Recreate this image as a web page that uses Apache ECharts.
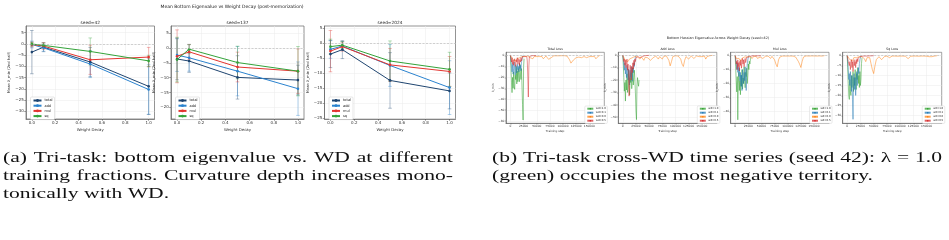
<!DOCTYPE html>
<html><head><meta charset="utf-8">
<script src="https://cdn.jsdelivr.net/npm/echarts@6/dist/echarts.min.js"></script>
<style>html,body{margin:0;padding:0;background:#fff}#c{width:949px;height:240px}</style>
</head><body><div id="c"></div>
<script>
// ---- data: (a) mean bottom eigenvalue vs weight decay ----
var wdX = [0, 0.1, 0.5, 1.0];
var taskNames = ['total', 'add', 'mul', 'sq'];
var seedTitles = ['seed=42', 'seed=137', 'seed=2024'];

var s42Mean = [[-3.7, -1.5, -8.1, -18.9], [-0.3, -1.8, -9.0, -20.3], [-0.3, -1.0, -7.1, -5.9], [-0.1, -0.7, -3.4, -7.6]];
var s42Err  = [[9.6, 2.0, 6.5, 12.5], [1.5, 1.5, 6.0, 11.0], [1.0, 1.5, 6.5, 4.3], [0.8, 1.0, 6.0, 2.5]];
var s137Mean = [[-3.7, -4.4, -9.9, -10.8], [-2.4, -3.3, -7.8, -13.7], [-2.8, -1.3, -6.4, -7.8], [-3.9, -0.4, -4.9, -7.8]];
var s137Err  = [[7.0, 3.8, 7.3, 5.0], [5.5, 4.5, 8.3, 9.0], [8.9, 2.5, 5.0, 7.5], [7.5, 1.5, 5.5, 8.3]];
var s2024Mean = [[-3.6, -2.1, -12.4, -15.9], [-2.0, -0.9, -7.4, -14.8], [-2.6, -1.1, -7.2, -9.4], [-1.1, -0.6, -5.9, -8.7]];
var s2024Err  = [[4.5, 3.0, 9.3, 6.0], [3.0, 1.5, 7.0, 9.0], [6.9, 1.5, 5.5, 5.0], [2.5, 1.2, 6.7, 5.7]];

var wdTicks = [0, 0.2, 0.4, 0.6, 0.8, 1.0];
var yTicks42 = [5, 0, -5, -10, -15, -20, -25, -30];
var yTicks137 = [5, 0, -5, -10, -15, -20];
var yTicks2024 = [5, 0, -5, -10, -15, -20, -25];

// ---- data: (b) bottom hessian eigenvalue time series, seed 42 ----
var lossTitles = ['Total Loss', 'Add Loss', 'Mul Loss', 'Sq Loss'];
var wdNames = ['wd=1.0', 'wd=0.1', 'wd=0.0', 'wd=0.5'];

var steps1k = [0,1000,2000,3000,4000,5000,6000,7000,8000,9000,10000,11000,12000,13000,14000,15000,16000,17000,18000,19000,20000,
  21000,22000,23000,24000,25000,26000,27000,28000,29000,30000,31000,32000,33000,34000,35000,36000,37000,38000,39000,40000,
  41000,42000,43000,44000,45000,46000,47000,48000,49000,50000];
var steps2500 = [0,2500,5000,7500,10000,12500,15000,17500,20000,22500,25000,27500,30000,32500,35000,37500,40000,42500,45000,47500,
  50000,52500,55000,57500,60000,62500,65000,67500,70000,72500,75000,77500,80000,82500,85000,87500,90000,92500,95000,97500,
  100000,102500,105000,107500,110000,112500,115000,117500,120000,122500,125000,127500,130000,132500,135000,137500,140000,
  142500,145000,147500,150000,152500,155000,157500,160000,162500,165000,167500,170000];

// Total Loss
var totGreen = [0, -12, -25, -34, -20, -30, -15, -28, -31, -18, -22, -10, -26, -14, -24, -12, -20, -24, -8, -18, -22, -12, -30, -45, -59, -10, -3];
var totBlue = [0, -5, -10, -15, -8, -17, -12, -6, -14, -18, -9, -12, -16, -8, -13, -10, -15, -7, -12, -9, -14, -6, -3, -1, 0];
var totOrange = [0,-2,-4,-3,-5,-3,-4,-2,-3,-1, -2,-1,-1,-0.5,-1,-2,-1,-3,-1,-0.5, -1,-2,-1,-2.5,-1,-3,-1.5,-0.5,-2,-3.5,
  -4,-2,-0.5,-0.3,-0.2,-0.3,-0.2,-0.3,-0.2,-0.2, -0.3,-0.2,-0.3,-0.5,-2,-4,-7,-6,-4,-3, -2,-3,-1.5,-1,-2,-3,-1,-0.5,-2,-3,
  -1,-0.5,-1,-2,-1,-3,-1.5,-0.5,0];
var totRed = [0, -3, -6, -2, -8, -4, -9, -5, -3, -7, -10, -4, -6, -2, -8, -5, -3, -9, -4, -6, -2, -5, -3, -1, -2, -1, -0.5, -1, -0.5, -0.3,
  -0.5, -1, -5, -20, -38, -10, -1, -0.5, -0.3, -0.2, -0.3, -0.2, -0.1, -0.2, -0.1, -0.1, -0.2, -0.1, -0.1, -0.1, 0];
// Add Loss
var addGreen = [0, -8, -18, -29, -22, -37, -20, -28, -15, -30, -24, -12, -26, -32, -18, -22, -14, -27, -20, -10, -24, -18, -12, -20, -30, -45, -52, -25, -18, -22, -25, -20];
var addBlue = [0, -3, -8, -12, -6, -15, -10, -18, -8, -14, -20, -11, -16, -24, -12, -18, -9, -15, -21, -10, -14, -6, -9, -4, -1, 0];
var addOrange = [0,-2,-4,-3,-5,-3,-4,-2,-3,-1, -2,-1,-0.5,-3,-1,-0.5,-4,-1.5,-0.5,-2, -1,-4,-5,-2,-1,-0.5,-2,-3,-1,-0.5,
  -3,-1,-0.5,-0.3,-1,-4,-8.5,-5,-1,-0.5, -0.3,-1,-0.5,-1,-3,-7,-9,-4,-1,-0.5, -3,-1.5,-0.5,-1,-2.5,-1,-0.5,-2,-1,-0.5,
  -1,-2,-0.5,-3,-1,-0.5,-0.3,-0.2,0];
var addRed = [0, -2, -5, -3, -8, -4, -10, -6, -3, -12, -7, -18, -33, -15, -8, -12, -20, -9, -14, -6, -11, -4, -8, -3, -5, -2, -3, -1, -2, -1,
  -0.5, -1, -0.5, -2, -1, -0.5, -0.3, -1, -0.5, -0.3, -0.2, -0.3, -0.2, -0.1, -0.2, -0.1, -0.1, -0.2, -0.1, -0.1, 0];
// Mul Loss
var mulGreen = [0, -8, -18, -26, -15, -46, -20, -12, -25, -18, -28, -14, -22, -10, -24, -16, -20, -8, -18, -23, -12, -15, -9, -20, -14, -6, -10, -4, -6, -3, -1];
var mulBlue = [0, -3, -6, -10, -5, -12, -8, -15, -9, -18, -12, -22, -14, -25, -10, -16, -20, -12, -18, -8, -14, -25, -11, -6, -3, -1, 0];
var mulOrange = [0,-2,-3,-2,-4,-2,-3,-1,-2,-1, -1.5,-0.5,-1,-2,-0.5,-1,-0.5,-2,-3,-1, -0.5,-2,-1,-0.5,-1,-0.3,-1,-2,-0.5,-1,
  -3,-6,-8,-3,-1,-0.5,-0.3,-0.5,-0.3,-0.2, -0.3,-0.5,-0.3,-0.2,-0.3,-0.5,-1,-2,-4,-6, -8.5,-4,-1,-0.3,-0.2,-0.2,-0.3,-0.2,-0.2,-0.3,
  -0.2,-0.2,-0.3,-0.2,-0.2,-0.2,-0.3,-0.2,0];
var mulRed = [0, -2, -6, -4, -10, -3, -8, -5, -11, -4, -7, -3, -9, -5, -2, -6, -3, -8, -4, -2, -5, -3, -1, -2, -1, -0.5, -1, -0.5, -0.3, -0.5,
  -0.2, -0.3, -0.2, -0.5, -0.2, -0.1, -0.3, -0.2, -0.1, -0.2, -0.1, -0.1, -0.2, -0.1, -0.1, -0.1, -0.2, -0.1, -0.1, -0.1, 0];
// Sq Loss
var sqGreen = [0, -6, -14, -20, -22, -12, -18, -20, -10, -16, -13, -8, -18, -11, -15, -7, -13, -17, -9, -12, -6, -14, -10, -16, -8, -15, -12, -4, -1];
var sqBlue = [0, -3, -7, -12, -9, -15, -8, -13, -18, -10, -22, -32, -14, -9, -17, -11, -20, -13, -8, -15, -10, -6, -9, -4, -2, -1, 0];
var sqOrange = [0,-1,-2,-1.5,-2.5,-1,-2,-1,-1.5,-0.5, -1,-0.5,-0.5,-1.5,-3,-1,-0.5,-1,-4,-7, -9,-5,-2,-1,-0.5,-1,-2,-1,-0.5,-0.3,
  -0.2,-0.5,-1,-0.3,-0.2,-0.3,-0.2,-0.2,-0.3,-0.2, -0.2,-0.3,-0.2,-0.3,-0.3,-1,-1.5,-1,-0.3,-0.2, -0.2,-0.3,-0.2,-0.2,-0.3,-0.2,-0.2,-0.3,-0.2,-0.2,
  -0.3,-0.2,-0.5,-1.5,-0.5,-0.2,-0.2,-0.2,0];
var sqRed = [0, -1, -3, -2, -5, -3, -7, -4, -2, -6, -3, -8, -4, -2, -5, -3, -6, -2, -4, -1.5, -3, -1, -2, -0.5, -1, -0.5, -0.3, -0.5, -0.2, -0.3,
  -0.2, -0.1, -0.2, -0.1, -0.2, -0.1, -0.1, -0.1, -0.2, -0.1, -0.1, -0.1, -0.1, -0.1, -0.1, -0.1, -0.1, -0.1, -0.1, -0.1, 0];

var yTicksTot = [0, -10, -20, -30, -40, -50, -60];
var yTicksAdd = [0, -10, -20, -30, -40, -50];
var yTicksMul = [0, -10, -20, -30, -40];
var yTicksSq = [0, -5, -10, -15, -20, -25, -30];
var stepTicks = [0, 25000, 50000, 75000, 100000, 125000, 150000];

// ---- layout ----
var FONT = 'DejaVu Sans';
var taskColors = ['#1f4570', '#2b83cf', '#e3342f', '#34a33a'];
var wdColors = ['#2ca02c', '#1f77b4', '#ff7f0e', '#d62728'];

var leftPanels = [
  {grid: {left: 26, top: 26, width: 128.5, height: 93}, min: -33.4, max: 7.9, ticks: yTicks42, mean: s42Mean, err: s42Err},
  {grid: {left: 171, top: 26, width: 133, height: 93}, min: -23.9, max: 7.4, ticks: yTicks137, mean: s137Mean, err: s137Err},
  {grid: {left: 324.5, top: 26, width: 131, height: 93}, min: -25.3, max: 5.8, ticks: yTicks2024, mean: s2024Mean, err: s2024Err}
];
var rightPanels = [
  {grid: {left: 506, top: 52.3, width: 98.3, height: 71}, min: -62, max: 2.9, ticks: yTicksTot, lines: [totGreen, totBlue, totOrange, totRed]},
  {grid: {left: 618.3, top: 52.3, width: 98.5, height: 71}, min: -55, max: 2.5, ticks: yTicksAdd, lines: [addGreen, addBlue, addOrange, addRed]},
  {grid: {left: 730.7, top: 52.3, width: 98.3, height: 71}, min: -48.5, max: 2.4, ticks: yTicksMul, lines: [mulGreen, mulBlue, mulOrange, mulRed]},
  {grid: {left: 842.7, top: 52.3, width: 99, height: 71}, min: -34, max: 1.7, ticks: yTicksSq, lines: [sqGreen, sqBlue, sqOrange, sqRed]}
];

function minus(v) { return String(v).replace('-', '\u2212'); }

function errRender(params, api) {
  var x = api.value(0), y = api.value(1), e = api.value(2);
  var a = api.coord([x, y + e]), b = api.coord([x, y - e]);
  var st = {stroke: api.visual('color'), lineWidth: 0.8, opacity: 0.45};
  var cap = 1.8;
  return {type: 'group', children: [
    {type: 'line', shape: {x1: a[0], y1: a[1], x2: b[0], y2: b[1]}, style: st},
    {type: 'line', shape: {x1: a[0] - cap, y1: a[1], x2: a[0] + cap, y2: a[1]}, style: st},
    {type: 'line', shape: {x1: b[0] - cap, y1: b[1], x2: b[0] + cap, y2: b[1]}, style: st}
  ]};
}

var grids = [], xAxes = [], yAxes = [], series = [], titles = [], legends = [];
var zeroLine = {silent: true, symbol: ['none', 'none'], label: {show: false}, animation: false,
  lineStyle: {color: '#b5b5b5', type: [2, 1.5], width: 0.6}, data: [{yAxis: 0}]};
var gridLine = {show: true, lineStyle: {color: '#ebebeb', width: 0.5}};
var boxLine = {show: true, onZero: false, lineStyle: {color: '#666', width: 0.7}};

leftPanels.forEach(function (p, i) {
  grids.push(Object.assign({show: true, borderColor: '#666', borderWidth: 0.7}, p.grid));
  xAxes.push({type: 'value', gridIndex: i, min: -0.05, max: 1.05, axisLine: boxLine,
    axisTick: {length: 1.8, lineStyle: {color: '#444', width: 0.5}, customValues: wdTicks},
    axisLabel: {customValues: wdTicks, fontSize: 4, fontFamily: FONT, color: '#333', margin: 2.2,
      formatter: function (v) { return v.toFixed(1); }},
    splitLine: gridLine,
    name: 'Weight Decay', nameLocation: 'middle', nameGap: 8.5,
    nameTextStyle: {fontSize: 3.9, fontFamily: FONT, color: '#333'}});
  yAxes.push({type: 'value', gridIndex: i, min: p.min, max: p.max, axisLine: boxLine,
    axisTick: {length: 1.8, lineStyle: {color: '#444', width: 0.5}, customValues: p.ticks},
    axisLabel: {customValues: p.ticks, fontSize: 4, fontFamily: FONT, color: '#333', margin: 2.2, formatter: minus},
    splitLine: gridLine,
    name: 'Mean \u03bb_min (2nd half)', nameLocation: 'middle', nameGap: 12,
    nameTextStyle: {fontSize: 3.7, fontFamily: FONT, color: '#333'}});
  titles.push({text: seedTitles[i], left: p.grid.left + p.grid.width / 2, top: 20.5, textAlign: 'center', padding: 0,
    textStyle: {fontSize: 4.3, fontWeight: 'normal', fontFamily: FONT, color: '#222'}});
  legends.push({data: taskNames, orient: 'vertical', left: p.grid.left + 4.5, top: 97, itemWidth: 8, itemHeight: 3.5, itemGap: 1.2,
    padding: [1.5, 2], backgroundColor: '#fff', borderColor: '#ccc', borderWidth: 0.5, borderRadius: 1,
    textStyle: {fontSize: 3.5, fontFamily: FONT, color: '#222', padding: [0, 0, 0, -2]}});
  taskNames.forEach(function (t, k) {
    series.push({type: 'custom', name: t + ' err', xAxisIndex: i, yAxisIndex: i, z: 1,
      itemStyle: {color: taskColors[k]}, renderItem: errRender, encode: {x: 0, y: 1},
      data: wdX.map(function (x, j) { return [x, p.mean[k][j], p.err[k][j]]; })});
    var s = {type: 'line', name: t, xAxisIndex: i, yAxisIndex: i, z: 3,
      symbol: 'circle', symbolSize: 2.6, color: taskColors[k], lineStyle: {width: 1},
      data: wdX.map(function (x, j) { return [x, p.mean[k][j]]; })};
    if (k === 0) s.markLine = zeroLine;
    series.push(s);
  });
});

rightPanels.forEach(function (p, r) {
  var i = r + 3;
  grids.push(Object.assign({show: true, borderColor: '#666', borderWidth: 0.6}, p.grid));
  xAxes.push({type: 'value', gridIndex: i, min: -8500, max: 178500, axisLine: boxLine,
    axisTick: {length: 1.3, lineStyle: {color: '#444', width: 0.4}, customValues: stepTicks},
    axisLabel: {customValues: stepTicks, fontSize: 2.9, fontFamily: FONT, color: '#333', margin: 1.6,
      formatter: function (v) { return String(v); }},
    splitLine: gridLine,
    name: 'Training step', nameLocation: 'middle', nameGap: 6,
    nameTextStyle: {fontSize: 2.9, fontFamily: FONT, color: '#333'}});
  yAxes.push({type: 'value', gridIndex: i, min: p.min, max: p.max, axisLine: boxLine,
    axisTick: {length: 1.3, lineStyle: {color: '#444', width: 0.4}, customValues: p.ticks},
    axisLabel: {customValues: p.ticks, fontSize: 2.9, fontFamily: FONT, color: '#333', margin: 1.6, formatter: minus},
    splitLine: gridLine,
    name: '\u03bb_min', nameLocation: 'middle', nameGap: 8.5,
    nameTextStyle: {fontSize: 2.9, fontFamily: FONT, color: '#333'}});
  titles.push({text: lossTitles[r], left: p.grid.left + p.grid.width / 2, top: 47.3, textAlign: 'center', padding: 0,
    textStyle: {fontSize: 3.2, fontWeight: 'normal', fontFamily: FONT, color: '#222'}});
  legends.push({data: wdNames, orient: 'vertical', left: p.grid.left + p.grid.width - 19.5, top: 106, itemWidth: 6, itemHeight: 2, itemGap: 1,
    padding: [1.2, 1.5], backgroundColor: '#fff', borderColor: '#ccc', borderWidth: 0.4, borderRadius: 1,
    textStyle: {fontSize: 2.6, fontFamily: FONT, color: '#222', padding: [0, 0, 0, -2.5]}});
  wdNames.forEach(function (w, k) {
    var st = k === 2 ? steps2500 : steps1k;
    var s = {type: 'line', name: w, xAxisIndex: i, yAxisIndex: i, z: 2 + k, showSymbol: false, symbol: 'none',
      color: wdColors[k], lineStyle: {width: 0.7, opacity: 0.72},
      data: p.lines[k].map(function (v, j) { return [st[j], v]; })};
    if (k === 0) s.markLine = zeroLine;
    series.push(s);
  });
});

titles.push({text: 'Mean Bottom Eigenvalue vs Weight Decay (post-memorization)', left: 232, top: 4, textAlign: 'center', padding: 0,
  textStyle: {fontSize: 4.5, fontWeight: 'normal', fontFamily: FONT, color: '#222'}});
titles.push({text: 'Bottom Hessian Eigenvalue Across Weight Decay (seed=42)', left: 718, top: 37, textAlign: 'center', padding: 0,
  textStyle: {fontSize: 3.4, fontWeight: 'normal', fontFamily: FONT, color: '#222'}});

// captions: one glyph scale for all lines, justified lines spread by word spacing
var measure = document.createElement('canvas').getContext('2d');
var CAP_FONT = 'Liberation Serif', CAP_SIZE = 15.5;
measure.font = CAP_SIZE + 'px "' + CAP_FONT + '"';
var capScale = 440 / measure.measureText('(a) Tri-task: bottom eigenvalue vs. WD at different').width;
function captionLine(str, x, y, w) {
  var words = str.split(' ');
  var widths = words.map(function (t) { return measure.measureText(t).width * capScale; });
  var gap = measure.measureText(' ').width * capScale;
  if (w) {
    var sum = widths.reduce(function (a, b) { return a + b; }, 0);
    gap = (w - sum) / (words.length - 1);
  }
  var cx = x;
  return {type: 'group', silent: true, children: words.map(function (t, k) {
    var el = {type: 'text', x: cx, y: y, scaleX: capScale,
      style: {text: t, fontSize: CAP_SIZE, fontFamily: CAP_FONT, fill: '#111', align: 'left', verticalAlign: 'middle'}};
    cx += widths[k] + gap;
    return el;
  })};
}
var graphics = [
  captionLine('(a) Tri-task: bottom eigenvalue vs. WD at different', 3, 158, 450),
  captionLine('training fractions. Curvature depth increases mono-', 3, 176, 450),
  captionLine('tonically with WD.', 3, 193.5, 0),
  captionLine('(b) Tri-task cross-WD time series (seed 42): \u03bb = 1.0', 492, 158, 450),
  captionLine('(green) occupies the most negative territory.', 492, 176, 0)
];

var chart = echarts.init(document.getElementById('c'));
chart.setOption({
  animation: false,
  backgroundColor: '#fff',
  title: titles,
  legend: legends,
  grid: grids,
  xAxis: xAxes,
  yAxis: yAxes,
  series: series,
  graphic: graphics
});
</script></body></html>
